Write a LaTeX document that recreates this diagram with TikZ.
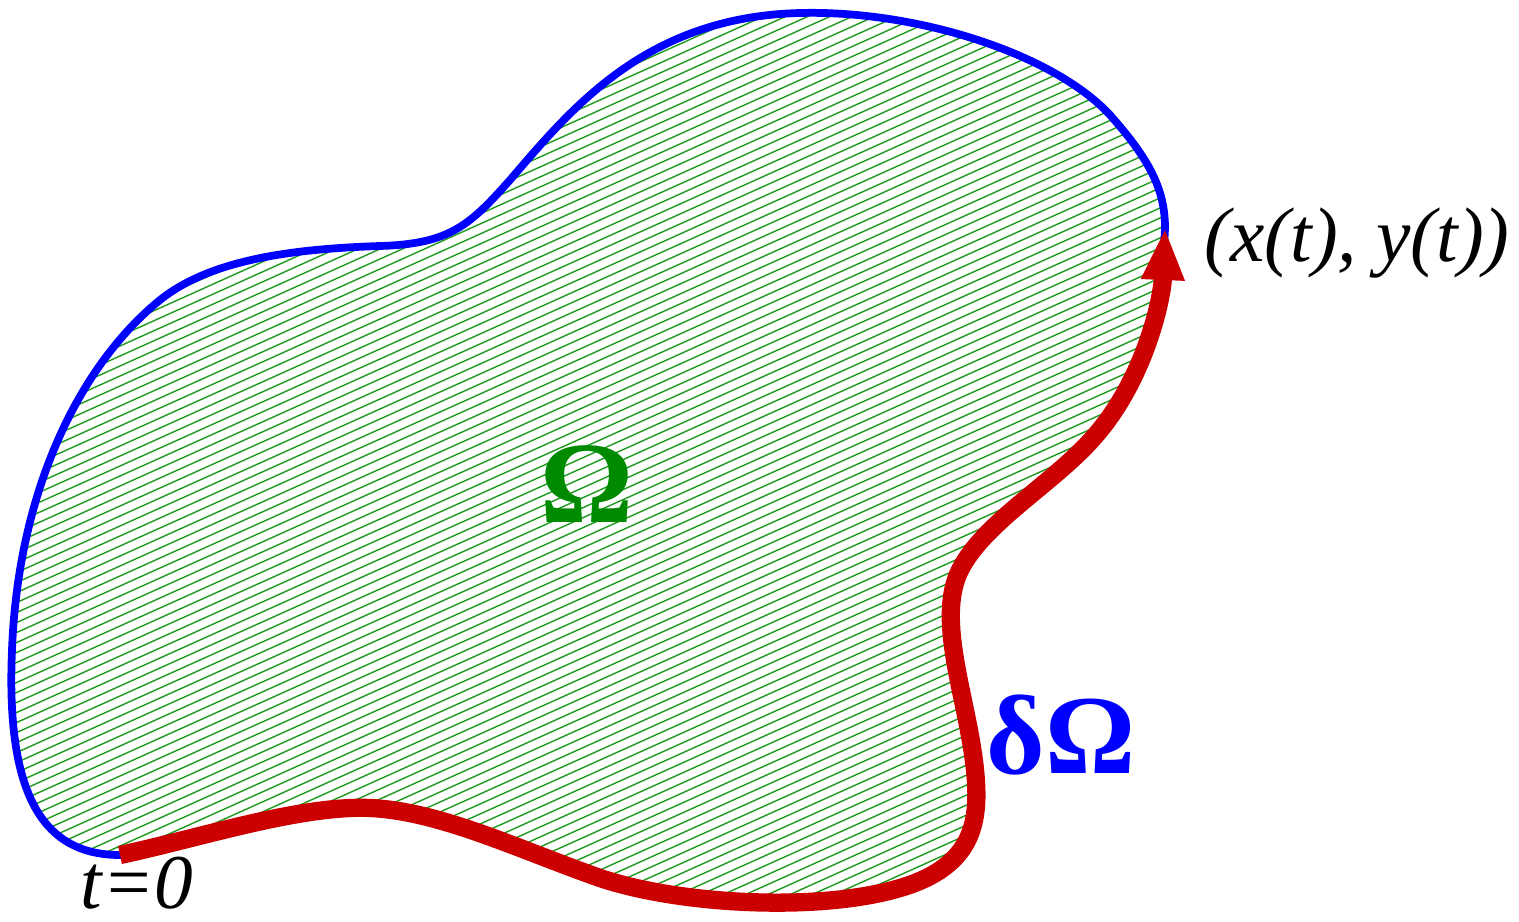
\documentclass[tikz,border=0pt]{standalone}
\usepackage{fontspec}
\setmainfont{Liberation Serif}
\usetikzlibrary{arrows.meta}
\definecolor{Edge}{HTML}{0000FF}
\definecolor{Path}{HTML}{CC0000}
\definecolor{Hatch}{HTML}{1E9A1E}
\definecolor{Region}{HTML}{008A00}

% the two halves of the boundary (pixel units, y down)
\newcommand{\lowerarc}{
  .. controls (200,838) and (300,805) .. (370,808)
  .. controls (440,811) and (520,850) .. (600,878)
  .. controls (680,905) and (820,912) .. (900,888)
  .. controls (975,866) and (980,820) .. (975,770)
  .. controls (968,700) and (935,620) .. (960,570)
  .. controls (985,520) and (1060,480) .. (1100,430)
  .. controls (1145,375) and (1162,300) .. (tip)}
\newcommand{\upperarc}{
  .. controls (1165,190) and (1150,160) .. (1110,115)
  .. controls (1050,50) and (900,5) .. (780,14)
  .. controls (640,25) and (570,110) .. (510,180)
  .. controls (470,225) and (450,244) .. (380,246)
  .. controls (290,249) and (210,260) .. (160,300)
  .. controls (80,365) and (18,490) .. (12,650)
  .. controls (6,790) and (40,855) .. (t0)}

\begin{document}
\begin{tikzpicture}[x=0.01cm,y=-0.01cm,
    hatch/.style={Hatch,line width=0.4pt},
    boundary/.style={Edge,line width=2.2pt},
    curve/.style={Path,line width=5.2pt},
    lab/.style={inner sep=0pt,font=\fontsize{22}{26}\selectfont\itshape}]
  \useasboundingbox (0,0) rectangle (1519,922);
  \coordinate (t0) at (120,855);
  \coordinate (tip) at (1165,228);

  % hatched region
  \begin{scope}
    \clip (t0) \lowerarc \upperarc -- cycle;
    \foreach \i in {0,10,...,1460}
      \draw[hatch] (0,\i) -- (1200,\i-540);
  \end{scope}

  \draw[boundary] (t0) \lowerarc \upperarc -- cycle;
  \draw[curve,-{Triangle[width=0.4cm,length=0.52cm]}] (t0) \lowerarc;

  \node[lab,anchor=base west] (point) at (1204,262) {(x(t), y(t))};
  \node[lab,anchor=base] (start) at (137,908) {t=0};
  \node[font=\fontsize{33}{38}\selectfont\bfseries,text=Region] (omega) at (587,484) {Ω};
  \node[font=\fontsize{32}{38}\selectfont\bfseries,text=Edge] (domega) at (1061,735) {δΩ};
\end{tikzpicture}
\end{document}
